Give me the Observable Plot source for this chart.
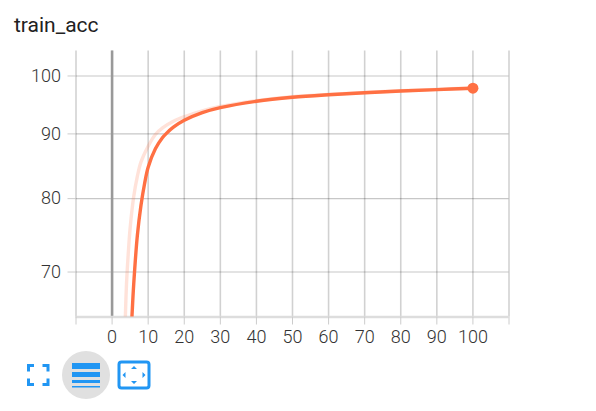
<!DOCTYPE html>
<html><head><meta charset="utf-8">
<script src="https://cdn.jsdelivr.net/npm/d3@7"></script>
<script src="https://cdn.jsdelivr.net/npm/@observablehq/plot@0.6"></script>
<style>
html,body{margin:0;padding:0;background:#fff;overflow:hidden}
#wrap{position:relative;width:596px;height:411px}
#title{position:absolute;left:14px;top:13px;font:400 21px Roboto,sans-serif;color:#212121;line-height:24px}
#chart{position:absolute;left:0;top:0}
#icons{position:absolute;left:0;top:345px}
</style></head><body>
<div id="wrap">
<div id="chart"></div>
<div id="title">train_acc</div>
<svg id="icons" width="170" height="60" fill="none">
  <circle cx="86" cy="30" r="24" fill="#e0e0e0"/>
  <path d="M28.500 26.500V20.500H34M42.500 20.500H48V26.500M48 33.500V39.500H42.500M34 39.500H28.500V33.500" stroke="#2196f3" stroke-width="3"/>
  <g fill="#2196f3"><rect x="72" y="18" width="28" height="6"/><rect x="72" y="27" width="28" height="5"/><rect x="72" y="35" width="28" height="3"/><rect x="72" y="41" width="28" height="1.5"/></g>
  <rect x="119" y="17" width="30" height="26" rx="2.5" stroke="#2196f3" stroke-width="3"/>
  <g fill="#2196f3"><path d="M134 21l3 3h-6zM134 39l3-3h-6zM122.500 30l3-3v6zM145.500 30l-3-3v6z"/></g>
</svg>
</div>
<script>
const xTicks = [-10,0,10,20,30,40,50,60,70,80,90,100,110];
const yTicks = [70,80,90,100];
const steps = [5,5.5,6,7,8,9,10,12,14,15,17,20,25,30,40,50,60,70,80,90,100];
const smoothed = [60.5,64.5,68.5,74.8,79,82.2,84.7,87.6,89.4,90.05,91.1,92.25,93.55,94.4,95.5,96.2,96.65,97,97.3,97.55,97.8];
const rawSteps = [3.5,4,4.5,5,6,7,8,10,12,14,17,20,25,30,40,50,60,70,80,90,100];
const raw = [62,68.5,72.5,75.8,80.3,83.3,85.5,88,89.9,91,92.1,92.85,93.85,94.6,95.6,96.3,96.7,97.05,97.35,97.6,97.85];
const orange = "#ff7043";
const smoothData = steps.map((x,i)=>({x,y:smoothed[i]}));
const rawData = rawSteps.map((x,i)=>({x,y:raw[i]}));
const last = smoothData[smoothData.length-1];
const plot = Plot.plot({
  width:596,height:411,
  marginLeft:75.5,marginRight:87.5,marginTop:50.5,marginBottom:94.5,
  style:{fontFamily:"Roboto,sans-serif",background:"transparent",overflow:"visible"},
  x:{domain:[-10,110],label:null},
  y:{type:"log",domain:[64.5,104.65],label:null},
  marks:[
    Plot.gridX(xTicks,{stroke:"#000",strokeOpacity:0.18,strokeWidth:1.6}),
    Plot.gridY(yTicks,{stroke:"#000",strokeOpacity:0.22,strokeWidth:1.2}),
    Plot.ruleX([0],{stroke:"#999",strokeWidth:2.6}),
    Plot.ruleY([64.5],{stroke:"#ddd",strokeWidth:2.4}),
    Plot.axisX({ticks:xTicks,tickSize:8,tickPadding:5,stroke:"#ccc",fill:"#333",fontSize:18,fontWeight:300,label:null,
      tickFormat:d=>(d<0||d>100)?"":String(d)}),
    Plot.axisY({ticks:yTicks,tickSize:8,tickPadding:7,stroke:"#ccc",fill:"#333",fontSize:18,fontWeight:300,label:null}),
    Plot.line(rawData,{x:"x",y:"y",stroke:orange,strokeOpacity:0.2,strokeWidth:3.4,curve:"catmull-rom",clip:true}),
    Plot.line(smoothData,{x:"x",y:"y",stroke:orange,strokeWidth:3.4,curve:"catmull-rom",clip:true}),
    Plot.dot([last],{x:"x",y:"y",r:5.5,fill:orange})
  ]
});
document.getElementById("chart").append(plot);
</script>
</body></html>
